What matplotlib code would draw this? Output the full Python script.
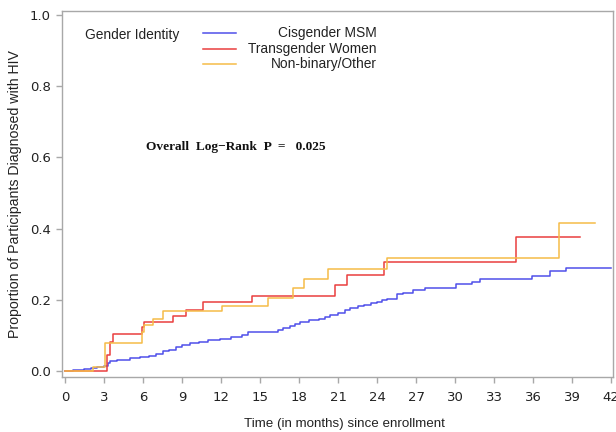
import matplotlib
matplotlib.use("Agg")
import matplotlib.pyplot as plt
from matplotlib.lines import Line2D

# ---- data ----
groups = ["Cisgender MSM", "Transgender Women", "Non-binary/Other"]

msm_t = [0.0, 0.6, 1.0, 1.5, 2.0, 2.5, 3.0, 3.3, 3.5, 4.0, 5.0, 5.8, 6.5, 7.0, 7.5,
         8.0, 8.5, 9.0, 9.6, 10.3, 11.0, 11.9, 12.8, 13.6, 14.1, 16.4, 16.8, 17.3,
         17.7, 18.1, 18.8, 19.5, 20.0, 20.4, 21.0, 21.5, 21.9, 22.5, 23.0, 23.5,
         24.0, 24.4, 24.8, 25.5, 26.0, 26.8, 27.7, 30.1, 31.3, 31.9, 35.9, 37.3,
         38.5, 42.0]
msm_p = [0.0, 0.002, 0.004, 0.006, 0.008, 0.010, 0.013, 0.022, 0.028, 0.032, 0.035,
         0.038, 0.042, 0.048, 0.055, 0.060, 0.066, 0.072, 0.078, 0.082, 0.086, 0.090,
         0.094, 0.100, 0.110, 0.114, 0.120, 0.127, 0.133, 0.138, 0.142, 0.147, 0.152,
         0.157, 0.162, 0.170, 0.177, 0.182, 0.186, 0.190, 0.194, 0.198, 0.203, 0.215,
         0.220, 0.228, 0.234, 0.244, 0.250, 0.258, 0.267, 0.281, 0.290, 0.290]

tgw_t = [0.0, 3.2, 3.5, 3.7, 5.95, 6.1, 8.3, 9.3, 10.6, 14.4, 20.8, 21.7, 24.5, 34.7, 39.6]
tgw_p = [0.0, 0.045, 0.082, 0.104, 0.124, 0.138, 0.154, 0.171, 0.194, 0.211, 0.242,
         0.270, 0.305, 0.376, 0.376]

nbo_t = [0.0, 2.15, 3.1, 5.9, 6.1, 6.8, 7.5, 12.1, 15.6, 17.5, 18.4, 20.2, 24.8, 38.0, 40.8]
nbo_p = [0.0, 0.012, 0.078, 0.110, 0.129, 0.146, 0.169, 0.183, 0.205, 0.233, 0.258,
         0.286, 0.317, 0.415, 0.415]

x_ticks = list(range(0, 43, 3))
y_ticks = [0.0, 0.2, 0.4, 0.6, 0.8, 1.0]

colors = ["#4F4FEA", "#EA3F3F", "#F5BC48"]

# ---- figure ----
fig = plt.figure(figsize=(6.16, 4.32), dpi=100)
ax = fig.add_axes([62/616, 1-377/432, (613-62)/616, (377-11)/432])

series = [(msm_t, msm_p), (tgw_t, tgw_p), (nbo_t, nbo_p)]
for (t, p), c in zip(series, colors):
    ax.plot(t, p, drawstyle="steps-post", color=c, lw=1.1)

ax.set_xlim(-0.23, 42.15)
ax.set_ylim(-0.017, 1.011)
ax.set_xticks(x_ticks)
ax.set_yticks(y_ticks)
ax.set_yticklabels([f"{v:.1f}" for v in y_ticks])

spine_c = "#A8A8A8"
for s in ax.spines.values():
    s.set_color(spine_c)
    s.set_linewidth(1.0)
ax.tick_params(colors=spine_c, labelcolor="#222222", length=4, width=1.0,
               labelsize=9.5)
ax.tick_params(axis="x", pad=6)
ax.tick_params(axis="y", pad=4)
for lab in ax.get_xticklabels() + ax.get_yticklabels():
    lab.set_family("DejaVu Sans")

ax.set_xlabel("Time (in months) since enrollment", family="Liberation Sans",
              fontsize=9.6, color="#222222", va="center")
ax.xaxis.set_label_coords(0.512, -(424 - 377) / 366)
ax.set_ylabel("Proportion of Participants Diagnosed with HIV", family="Liberation Sans",
              fontsize=10.2, color="#222222", labelpad=6)

# legend drawn manually (right-aligned labels as in reference)
fig.text(85/616, 1-35/432, "Gender Identity",
         family="Liberation Sans", fontsize=9.9, color="#222222", va="center", ha="left")
for i, (g, c) in enumerate(zip(groups, colors)):
    yy = 1 - (33 + 15.5*i)/432
    fig.add_artist(Line2D([203/616, 236/616], [yy, yy], transform=fig.transFigure,
                          color=c, lw=1.1))
    fig.text(377/616, yy, g, family="Liberation Sans", fontsize=9.9,
             color="#222222", va="center", ha="right")

fig.text(146/616, 1-147/432, "Overall  Log\u2212Rank  P  =   0.025",
         family="Liberation Serif", fontweight="bold", fontsize=9.6, color="#111111",
         va="center", ha="left")

fig.savefig("out.png", dpi=100)
